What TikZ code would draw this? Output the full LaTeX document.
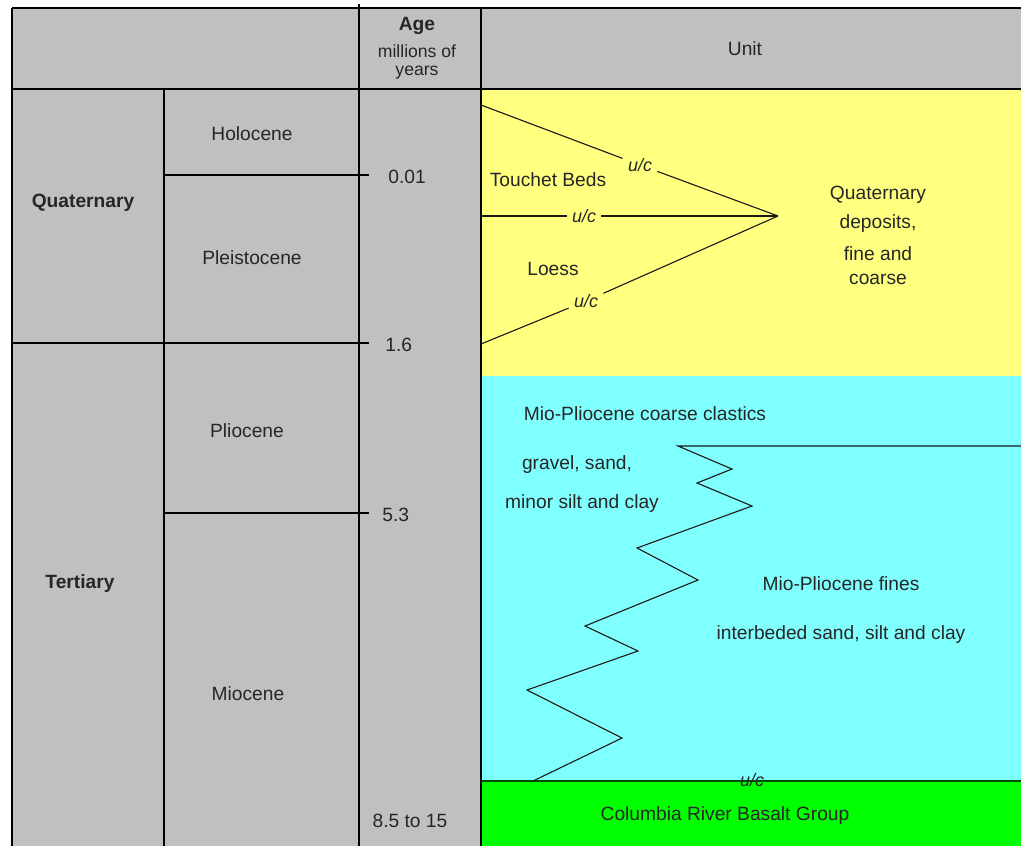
\documentclass[tikz,border=0pt]{standalone}
\usepackage{fontspec}
\setmainfont{Liberation Sans}
\usepackage{xcolor}
\definecolor{agegray}{HTML}{C0C0C0}
\definecolor{quatyellow}{HTML}{FFFF80}
\definecolor{miocyan}{HTML}{80FFFF}
\definecolor{basaltgreen}{HTML}{00FF00}
\usetikzlibrary{positioning}
\tikzset{
  rule/.style   ={line width=1.3pt, black},
  contact/.style={line width=0.55pt, black!90},
  lbl/.style    ={font=\fontsize{9.6}{11.5}\selectfont, text=black!85, inner sep=1pt,
                  align=center, yshift=-1.2pt},
  lblb/.style   ={lbl, font=\bfseries\fontsize{9.6}{11.5}\selectfont},
  lbls/.style   ={lbl, font=\fontsize{8.8}{10}\selectfont},
  uc/.style     ={font=\itshape\fontsize{9}{10}\selectfont, text=black!85, inner sep=2.5pt},
}

\begin{document}
\begin{tikzpicture}[x=0.5pt, y=-0.5pt]
  \useasboundingbox (0,0) rectangle (1021,846);
  % fills
  \fill[white] (0,0) rectangle (1021,846);
  \fill[agegray] (12,8) rectangle (1021,89);
  \fill[agegray] (12,89) rectangle (481,846);
  \fill[quatyellow] (481,89) rectangle (1021,376);
  \fill[miocyan] (481,376) rectangle (1021,781);
  \fill[basaltgreen] (481,781) rectangle (1021,846);

  % table rules
  \draw[rule] (12,8) -- (1021,8);
  \draw[rule] (12,89) -- (1021,89);
  \draw[rule] (12,8) -- (12,846);
  \draw[rule, line width=1pt] (164,89) -- (164,846);
  \draw[rule] (359,4) -- (359,846);
  \draw[rule] (481,8) -- (481,846);
  \draw[rule] (12,343) -- (369,343);
  \draw[rule, line width=1pt] (164,175) -- (369,175);
  \draw[rule, line width=1pt] (164,513) -- (369,513);
  \draw[line width=0.8pt, black!70!basaltgreen] (481,781) -- (1021,781);

  % header
  \node[lblb] (age)   at (417,24) {Age};
  \node[lbls] (ageu)  at (417,60) {millions of\\[-1pt]years};
  \node[lbl]  (unit)  at (745,46) {Unit};

  % eras and epochs
  \node[lblb] (quat)  at (83,200) {Quaternary};
  \node[lblb] (tert)  at (80,581) {Tertiary};
  \node[lbl]  (holo)  at (252,131) {Holocene};
  \node[lbl]  (pleis) at (252,255) {Pleistocene};
  \node[lbl]  (plio)  at (247,428) {Pliocene};
  \node[lbl]  (mio)   at (248,691) {Miocene};

  % ages
  \node[lbl, anchor=west] (a001) at (386,174) {0.01};
  \node[lbl, anchor=west] (a16)  at (383,342) {1.6};
  \node[lbl, anchor=west] (a53)  at (380,512) {5.3};
  \node[lbl] (a85) at (410,818) {8.5 to 15};

  % quaternary contacts
  \coordinate (apex) at (778,216);
  \coordinate (tbTop) at (481,105);
  \coordinate (tbMid) at (481,216);
  \coordinate (lsBot) at (481,344);
  \node[uc] (ucTop) at (640,165) {u/c};
  \node[uc] (ucMid) at (584,216) {u/c};
  \node[uc] (ucBot) at (586,301) {u/c};
  \draw[contact] (tbTop) -- (ucTop) -- (apex);
  \draw[contact] (tbMid) -- (ucMid) -- (apex);
  \draw[contact] (lsBot) -- (ucBot) -- (apex);
  \node[lbl] (touchet) at (548,177) {Touchet Beds};
  \node[lbl] (loess)   at (553,267) {Loess};
  \node[lbl] (qdep) at (878,192) {Quaternary};
  \node[lbl] (qdep2) at (878,221) {deposits,};
  \node[lbl] (qdep3) at (878,251) {fine and};
  \node[lbl] (qdep4) at (878,277) {coarse};

  % mio-pliocene facies boundary
  \draw[contact] (1021,446) -- (678,446) -- (732,469) -- (697,483) -- (752,506)
    -- (637,548) -- (698,580) -- (585,626) -- (638,651) -- (527,690)
    -- (622,738) -- (533,781);
  \node[lbl] (coarse)  at (645,411) {Mio-Pliocene coarse clastics};
  \node[lbl] (gravel)  at (577,462) {gravel, sand,};
  \node[lbl] (minor)   at (582,501) {minor silt and clay};
  \node[lbl] (fines)   at (841,581) {Mio-Pliocene fines};
  \node[lbl] (interb)  at (841,632) {interbeded sand, silt and clay};

  % basalt
  \node[uc] (ucBase) at (752,780) {u/c};
  \node[lbl] (crbg) at (725,813) {Columbia River Basalt Group};
\end{tikzpicture}
\end{document}
